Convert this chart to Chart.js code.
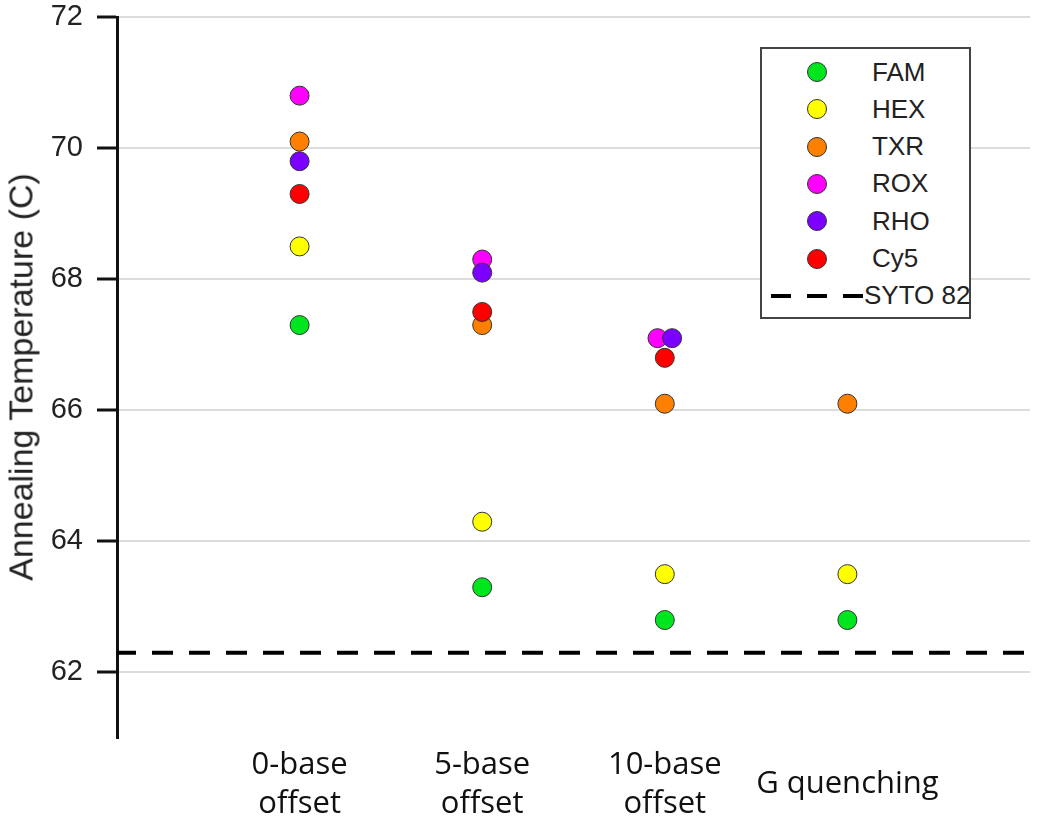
<!DOCTYPE html>
<html>
<head>
<meta charset="UTF-8" />
<title>Annealing temperature</title>
<script src="https://cdn.jsdelivr.net/npm/chart.js"></script>
<style>
  body { margin: 0; background: #fff; }
  #wrap { position: relative; width: 1050px; height: 825px; }
  #yTitle {
    position: absolute; left: 21px; top: 377px;
    transform: translate(-50%, -50%) rotate(-90deg);
    font: 34px "Liberation Sans", Arial, sans-serif; color: #222; white-space: nowrap;
  }
  #legenda {
    position: absolute; left: 760px; top: 47px; width: 207px; height: 268px;
    border: 2px solid #444; background: #fff;
  }
  .item { position: absolute; left: 0; height: 32px; display: flex; align-items: center; white-space: nowrap;
    font: 26px "Liberation Sans", Arial, sans-serif; color: #222; }
  .dot { width: 18px; height: 18px; border-radius: 50%; border: 1px solid #333; margin-left: 45px; margin-right: 45px; }
  .traco { width: 92px; height: 4px; margin-left: 9px; margin-right: 1px;
    background: repeating-linear-gradient(to right, #000 0 20px, transparent 20px 36px); }
</style>
</head>
<body>
<div id="wrap">
  <canvas id="grafico" width="1050" height="825"></canvas>
  <div id="yTitle">Annealing Temperature (C)</div>
  <div id="legenda"></div>
</div>
<script>
  const categorias = [["0-base", "offset"], ["5-base", "offset"], ["10-base", "offset"], "G quenching"];

  const nomes = ["FAM", "HEX", "TXR", "ROX", "RHO", "Cy5"];
  const cores = ["#00e61e", "#ffff00", "#ff8000", "#ff00ff", "#7b00ff", "#ff0000"];

  const fam = [67.3, 63.3, 62.8, 62.8];
  const hex = [68.5, 64.3, 63.5, 63.5];
  const txr = [70.1, 67.3, 66.1, 66.1];
  const rox = [70.8, 68.3, 67.1, null];
  const rho = [69.8, 68.1, 67.1, null];
  const cy5 = [69.3, 67.5, 66.8, null];
  // deslocamento horizontal pequeno onde os pontos se sobrepõem
  const deslocRox = [0, 0, -0.04, 0];
  const deslocRho = [0, 0, 0.04, 0];

  const syto82 = 62.3;

  const series = [fam, hex, txr, rox, rho, cy5];
  const deslocs = [null, null, null, deslocRox, deslocRho, null];

  const datasets = series.map((valores, i) => ({
    type: "scatter",
    label: nomes[i],
    data: valores
      .map((v, k) => (v == null ? null : { x: k + (deslocs[i] ? deslocs[i][k] : 0), y: v }))
      .filter((p) => p),
    backgroundColor: cores[i],
    borderColor: "#333",
    borderWidth: 1,
    pointRadius: 9.5,
    pointHoverRadius: 9.5,
    order: 6 - i,
  }));

  datasets.push({
    type: "line",
    label: "SYTO 82",
    data: [{ x: -1, y: syto82 }, { x: 4, y: syto82 }],
    borderColor: "#000",
    borderWidth: 4,
    borderDash: [21, 16],
    borderDashOffset: 2,
    pointRadius: 0,
    order: 10,
  });

  new Chart(document.getElementById("grafico"), {
    data: { datasets: datasets },
    options: {
      responsive: false,
      animation: false,
      layout: { padding: { left: 0, top: 17, right: 20, bottom: 0 } },
      plugins: { legend: { display: false }, tooltip: { enabled: false } },
      scales: {
        x: {
          type: "linear",
          min: -1,
          max: 4,
          afterFit: (s) => { s.height = 87; s.paddingLeft = 0; s.paddingRight = 0; },
          ticks: {
            stepSize: 1,
            autoSkip: false,
            maxRotation: 0,
            padding: 27,
            crossAlign: "center",
            color: "#111",
            font: { family: "'Open Sans', Lato, sans-serif", size: 31, lineHeight: 1.25 },
            callback: (v) => (v >= 0 && v < categorias.length ? categorias[v] : ""),
          },
          grid: { display: false, drawTicks: false },
          border: { display: false },
        },
        y: {
          min: 61,
          max: 72,
          afterFit: (s) => { s.width = 117; s.paddingTop = 0; s.paddingBottom = 0; },
          ticks: {
            stepSize: 2,
            includeBounds: false,
            padding: 14,
            color: "#222",
            font: { family: "'Liberation Sans', Arial, sans-serif", size: 29 },
          },
          grid: { color: "#dcdcdc", lineWidth: 2, tickLength: 20, tickColor: "#111", tickWidth: 3 },
          border: { color: "#111", width: 3 },
        },
      },
    },
  });

  // legenda desenhada em HTML dentro da área do gráfico
  const legenda = document.getElementById("legenda");
  nomes.forEach((nome, i) => {
    legenda.innerHTML += `<div class="item" style="top:${7 + i * 37.3}px"><span class="dot" style="background:${cores[i]}"></span>${nome}</div>`;
  });
  legenda.innerHTML += `<div class="item" style="top:${7 + 6 * 37.3}px"><span class="traco"></span>SYTO 82</div>`;
</script>
</body>
</html>
